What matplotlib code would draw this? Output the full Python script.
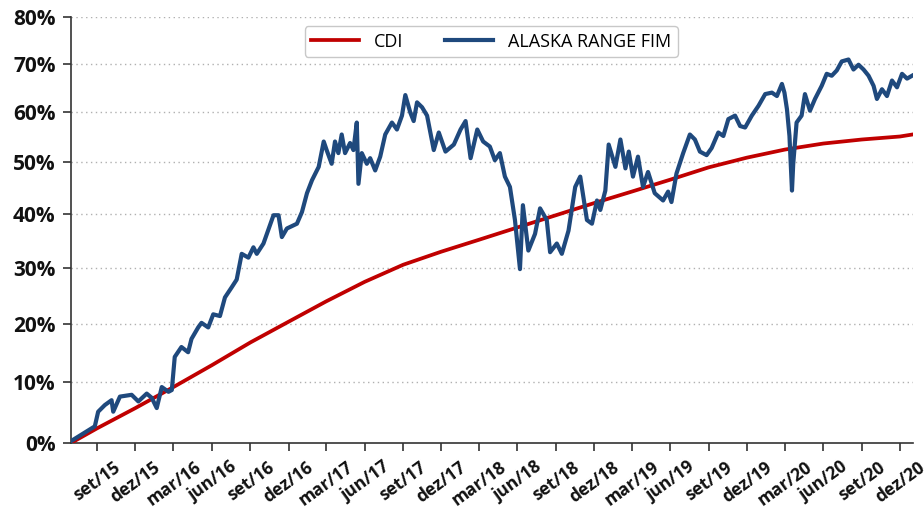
import numpy as np
import pandas as pd
import matplotlib
matplotlib.use("Agg")
import matplotlib.pyplot as plt

# CDI acumulado (%)
cdi_dates = ["2015-06-30", "2015-09-01", "2015-12-01", "2016-03-01", "2016-06-01",
             "2016-09-01", "2016-12-01", "2017-03-01", "2017-06-01", "2017-09-01",
             "2017-12-01", "2018-03-01", "2018-06-01", "2018-09-01", "2018-12-01",
             "2019-03-01", "2019-06-01", "2019-09-01", "2019-12-01", "2020-03-01",
             "2020-06-01", "2020-09-01", "2020-12-01", "2020-12-31"]
cdi_vals = [0.0, 2.4, 5.7, 9.2, 12.9, 16.8, 20.4, 24.0, 27.5, 30.6, 33.0, 35.2,
            37.5, 39.8, 42.1, 44.3, 46.6, 49.0, 50.9, 52.5, 53.7, 54.5, 55.1, 55.5]

# ALASKA RANGE FIM acumulado (%)
fim_dates = ["2015-06-30", "2015-08-26", "2015-09-03", "2015-09-19", "2015-10-05",
             "2015-10-09", "2015-10-25", "2015-11-22", "2015-12-08", "2015-12-28",
             "2016-01-09", "2016-01-21", "2016-02-02", "2016-02-18", "2016-02-26",
             "2016-03-04", "2016-03-20", "2016-04-05", "2016-04-13", "2016-04-29",
             "2016-05-07", "2016-05-23", "2016-06-04", "2016-06-20", "2016-07-02",
             "2016-07-18", "2016-07-30", "2016-08-11", "2016-08-27", "2016-09-08",
             "2016-09-16", "2016-10-02", "2016-10-26", "2016-11-07", "2016-11-15",
             "2016-11-27", "2016-12-21", "2017-01-02", "2017-01-14", "2017-01-26",
             "2017-02-11", "2017-02-23", "2017-03-02", "2017-03-14", "2017-03-22",
             "2017-03-30", "2017-04-07", "2017-04-15", "2017-04-27", "2017-05-05",
             "2017-05-13", "2017-05-17", "2017-05-25", "2017-06-06", "2017-06-14",
             "2017-06-26", "2017-07-08", "2017-07-20", "2017-08-05", "2017-08-17",
             "2017-08-29", "2017-09-06", "2017-09-18", "2017-09-26", "2017-10-04",
             "2017-10-16", "2017-10-28", "2017-11-13", "2017-11-25", "2017-12-11",
             "2017-12-31", "2018-01-16", "2018-01-28", "2018-02-09", "2018-02-25",
             "2018-03-11", "2018-03-27", "2018-04-08", "2018-04-20", "2018-05-02",
             "2018-05-14", "2018-05-26", "2018-06-07", "2018-06-14", "2018-06-27",
             "2018-07-13", "2018-07-25", "2018-08-10", "2018-08-18", "2018-09-03",
             "2018-09-15", "2018-10-01", "2018-10-17", "2018-10-29", "2018-11-14",
             "2018-11-26", "2018-12-08", "2018-12-16", "2018-12-28", "2019-01-05",
             "2019-01-21", "2019-02-02", "2019-02-14", "2019-02-22", "2019-03-04",
             "2019-03-16", "2019-03-28", "2019-04-09", "2019-04-25", "2019-05-15",
             "2019-05-27", "2019-06-04", "2019-06-16", "2019-07-02", "2019-07-18",
             "2019-07-30", "2019-08-11", "2019-08-27", "2019-09-08", "2019-09-24",
             "2019-10-06", "2019-10-18", "2019-11-03", "2019-11-15", "2019-11-27",
             "2019-12-13", "2019-12-29", "2020-01-14", "2020-01-30", "2020-02-11",
             "2020-02-23", "2020-02-29", "2020-03-06", "2020-03-12", "2020-03-18",
             "2020-03-21", "2020-03-29", "2020-04-10", "2020-04-18", "2020-04-30",
             "2020-05-12", "2020-05-28", "2020-06-09", "2020-06-21", "2020-07-03",
             "2020-07-15", "2020-07-31", "2020-08-12", "2020-08-24", "2020-09-05",
             "2020-09-17", "2020-09-29", "2020-10-07", "2020-10-19", "2020-10-31",
             "2020-11-12", "2020-11-24", "2020-12-06", "2020-12-18", "2020-12-30"]
fim_vals = [0.3, 2.7, 5.1, 6.2, 7.0, 5.1, 7.6, 7.9, 6.8, 8.1,
            7.4, 5.7, 9.2, 8.4, 8.7, 14.3, 16.0, 15.1, 17.4, 19.4,
            20.2, 19.4, 21.7, 21.4, 24.7, 26.5, 27.9, 32.6, 31.9, 33.8,
            32.6, 34.5, 39.8, 39.8, 35.7, 37.3, 38.2, 40.4, 44.0, 46.5,
            49.1, 54.1, 52.4, 49.7, 54.1, 51.8, 55.5, 51.8, 53.8, 52.4,
            57.9, 45.8, 51.8, 49.7, 50.8, 48.4, 51.1, 55.5, 57.9, 56.5,
            59.3, 63.5, 59.9, 58.2, 62.0, 61.0, 59.3, 52.4, 55.9, 52.1,
            53.5, 56.5, 58.2, 50.8, 56.5, 54.1, 53.1, 50.4, 51.8, 47.2,
            45.2, 38.9, 29.8, 41.7, 33.2, 36.3, 41.1, 38.9, 32.9, 34.5,
            32.6, 36.9, 45.2, 47.2, 38.9, 38.2, 42.6, 40.8, 44.5, 53.5,
            49.1, 54.5, 48.8, 52.1, 47.2, 51.1, 45.2, 48.1, 44.0, 42.6,
            44.3, 42.3, 47.8, 51.8, 55.5, 54.5, 52.1, 51.4, 52.8, 55.9,
            55.2, 58.6, 59.3, 57.2, 56.9, 59.3, 61.3, 63.7, 64.0, 63.3,
            65.8, 64.0, 60.6, 55.2, 44.5, 49.7, 57.9, 59.3, 63.7, 60.3,
            62.7, 65.4, 67.9, 67.5, 68.6, 70.5, 70.9, 68.8, 69.8, 68.8,
            67.5, 65.4, 62.7, 64.7, 63.3, 66.5, 65.1, 67.9, 66.9, 67.5]

tick_dates = ["2015-09-01", "2015-12-01", "2016-03-01", "2016-06-01", "2016-09-01",
              "2016-12-01", "2017-03-01", "2017-06-01", "2017-09-01", "2017-12-01",
              "2018-03-01", "2018-06-01", "2018-09-01", "2018-12-01", "2019-03-01",
              "2019-06-01", "2019-09-01", "2019-12-01", "2020-03-01", "2020-06-01",
              "2020-09-01", "2020-12-01"]
tick_labels = ["set/15", "dez/15", "mar/16", "jun/16", "set/16", "dez/16", "mar/17",
               "jun/17", "set/17", "dez/17", "mar/18", "jun/18", "set/18", "dez/18",
               "mar/19", "jun/19", "set/19", "dez/19", "mar/20", "jun/20", "set/20",
               "dez/20"]
y_ticks = [0, 10, 20, 30, 40, 50, 60, 70, 80]

plt.rcParams['font.family'] = ['Open Sans', 'DejaVu Sans']

fig = plt.figure(figsize=(9.24, 5.15), dpi=100)
ax = fig.add_axes([0.0768, 0.1398, 0.9112, 0.8272])

# eixo y do original não é linear: escala log deslocada
c = 230.0
ax.set_yscale('function', functions=(lambda v: np.log(np.maximum(v + c, 1e-9)),
                                     lambda v: np.exp(v) - c))

ax.plot(pd.to_datetime(cdi_dates), cdi_vals, color='#c00000', lw=2.7,
        label='CDI', zorder=3)
ax.plot(pd.to_datetime(fim_dates), fim_vals, color='#1f497d', lw=3.0,
        label='ALASKA RANGE FIM', zorder=4)

ax.set_ylim(0, 80)
ax.set_xlim(pd.Timestamp("2015-06-30"), pd.Timestamp("2021-01-01"))

ax.set_yticks(y_ticks)
ax.set_yticklabels([f"{v}%" for v in y_ticks], fontsize=15, fontweight='bold')
ax.set_xticks(pd.to_datetime(tick_dates))
ax.set_xticklabels(tick_labels, fontsize=12.5, fontweight='bold', rotation=36,
                   ha='center')
ax.minorticks_off()

for v in y_ticks[1:]:
    ax.axhline(v, color='#b0b0b0', lw=1.0, ls=(0, (1, 2.5)), zorder=1)

for s in ['top', 'right']:
    ax.spines[s].set_visible(False)
for s in ['left', 'bottom']:
    ax.spines[s].set_color('#333333')
    ax.spines[s].set_linewidth(1.2)
ax.tick_params(axis='both', direction='out', length=6, width=1.2,
               color='#333333', labelcolor='#111111')
ax.tick_params(axis='x', pad=5)
ax.tick_params(axis='y', pad=5)

leg = ax.legend(loc='upper center', bbox_to_anchor=(0.499, 0.978), ncol=2,
                fontsize=13, frameon=True, fancybox=True, handlelength=2.65,
                columnspacing=2.3, handletextpad=0.85, borderpad=0.35,
                borderaxespad=0)
leg.get_frame().set_edgecolor('#c8c8c8')
leg.get_frame().set_linewidth(1.0)
leg.get_frame().set_alpha(1)

fig.savefig("out.png", dpi=100)
